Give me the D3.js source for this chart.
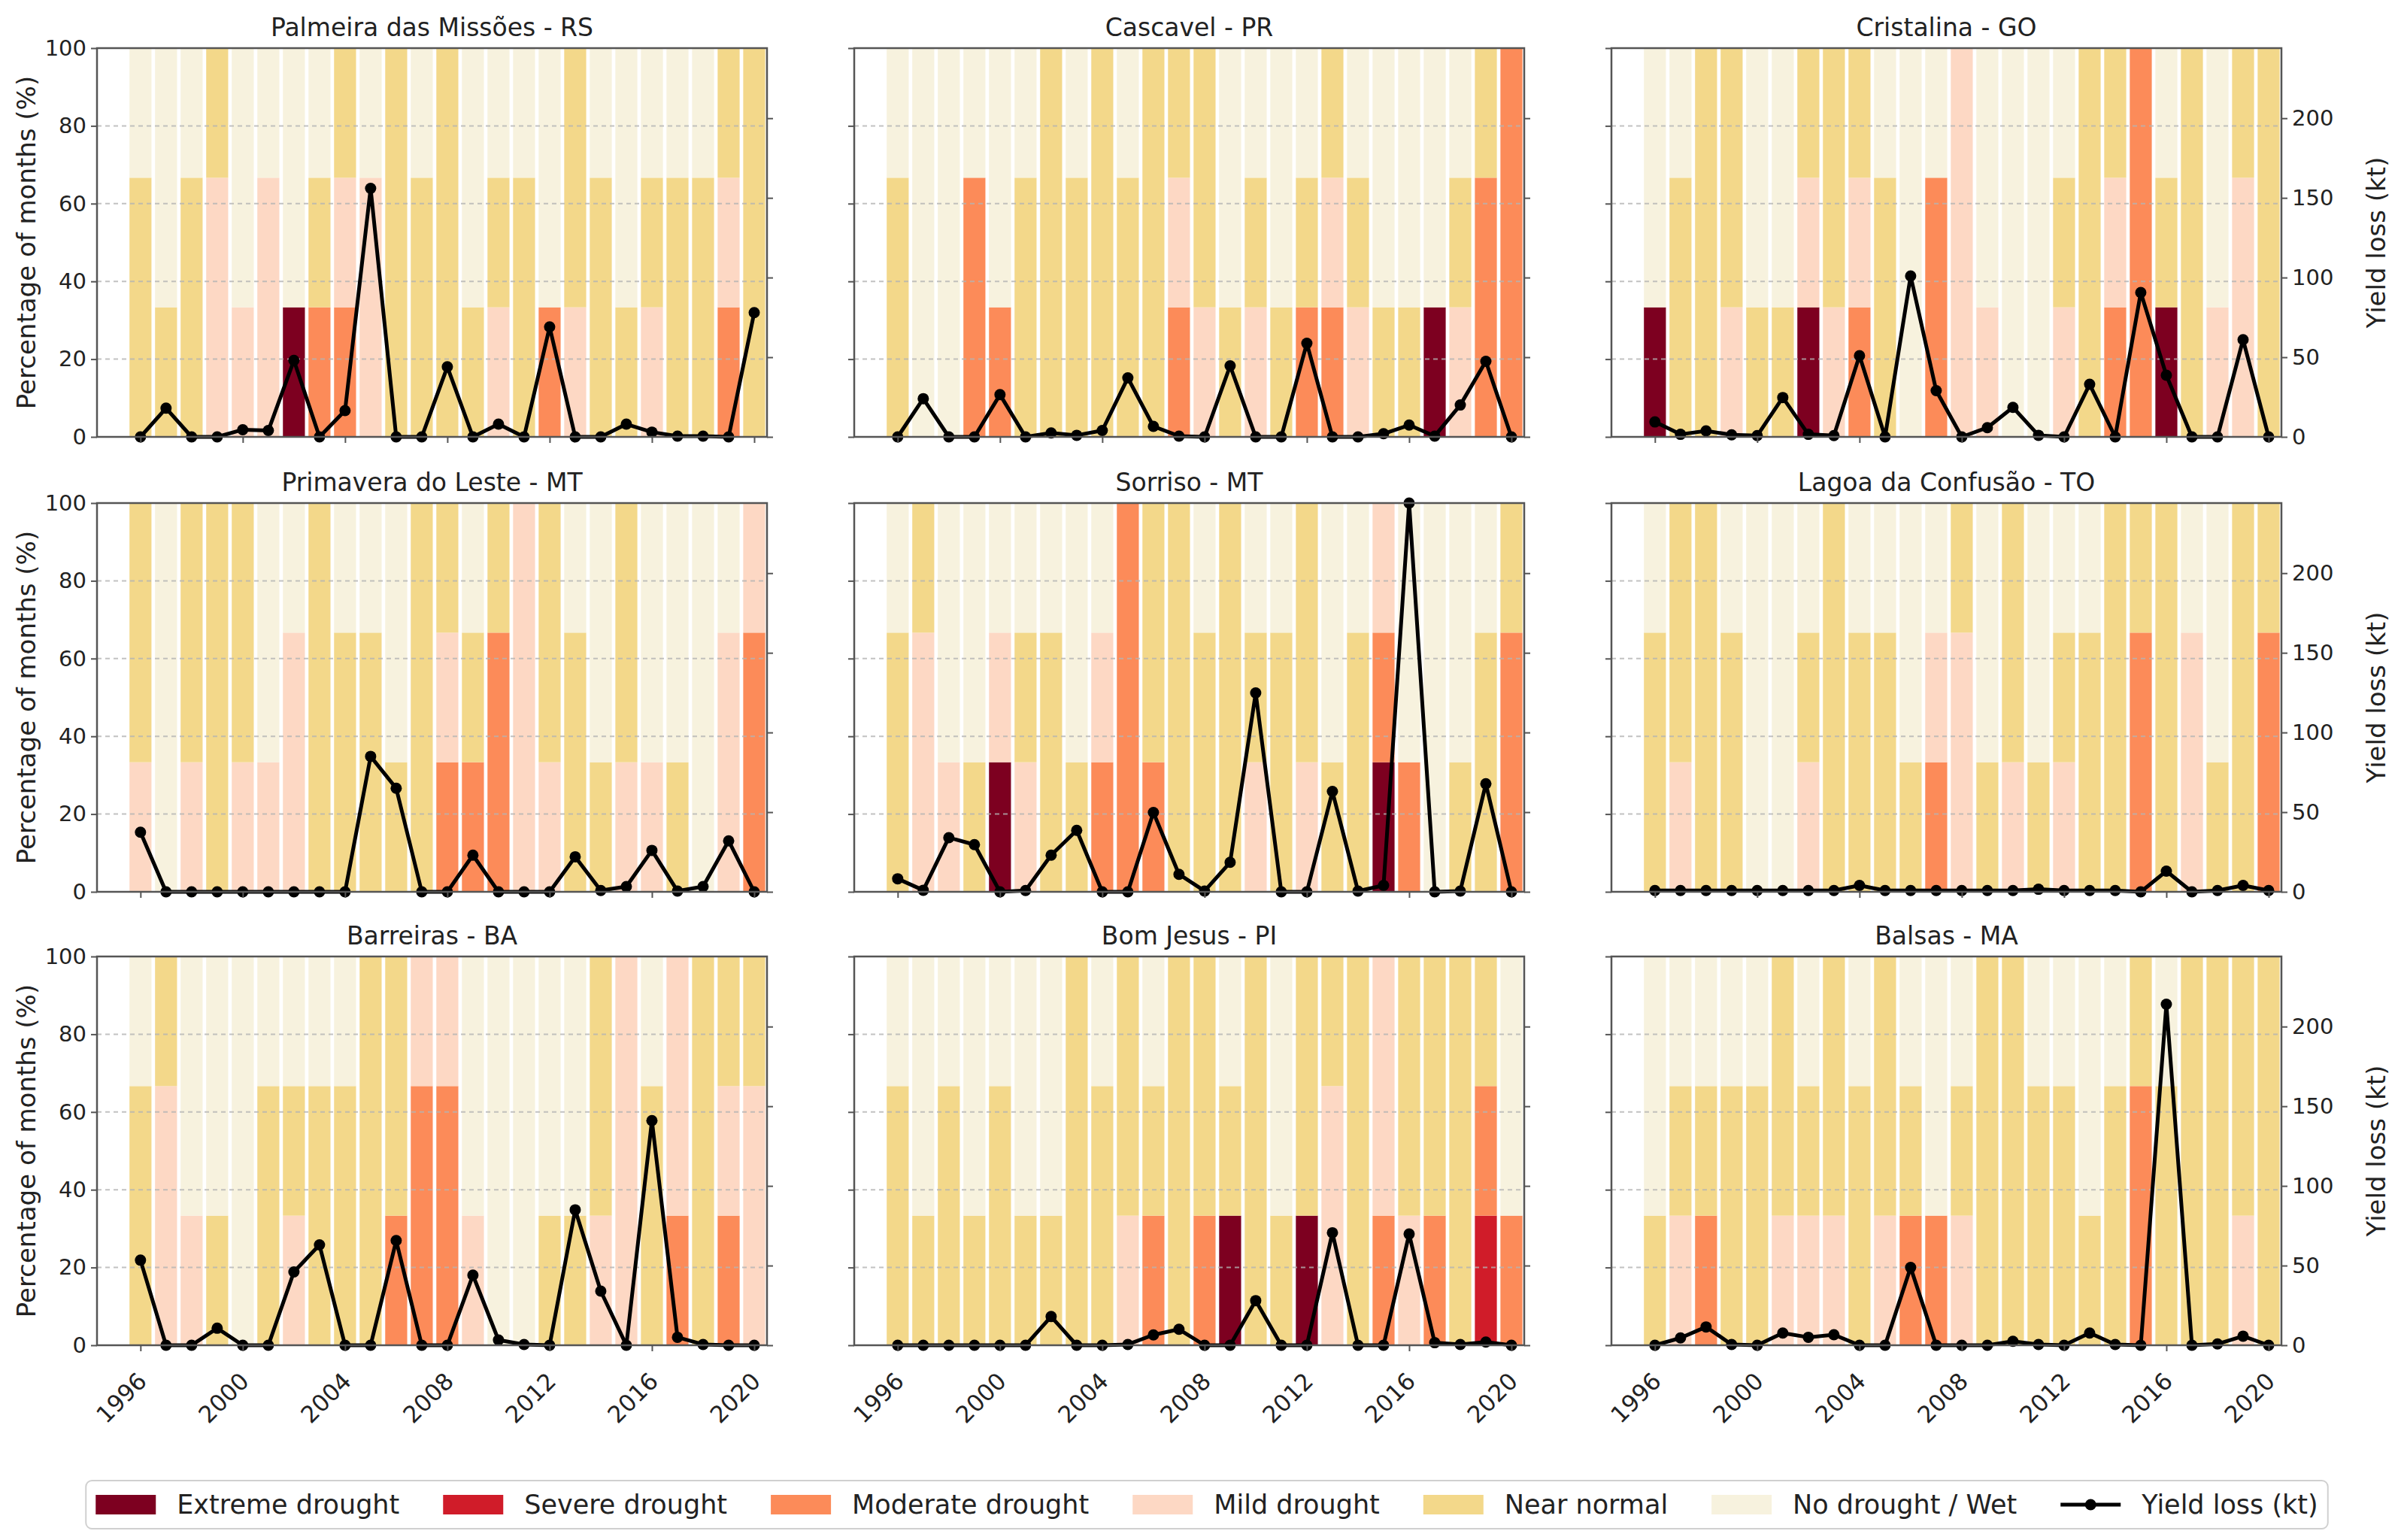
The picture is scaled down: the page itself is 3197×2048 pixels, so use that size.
<!DOCTYPE html>
<html>
<head>
<meta charset="utf-8">
<script src="https://cdn.jsdelivr.net/npm/d3@7/dist/d3.min.js"></script>
<style>
  body { margin: 0; background: #fff; }
  svg { font-family: "DejaVu Sans", sans-serif; }
</style>
</head>
<body>
<script>
// seasons 1996-2020, three months each; class codes from bottom to top:
// E extreme, S severe, M moderate, m mild, N near normal, W no drought / wet
const years = [1996, 1997, 1998, 1999, 2000, 2001, 2002, 2003, 2004, 2005, 2006, 2007, 2008,
               2009, 2010, 2011, 2012, 2013, 2014, 2015, 2016, 2017, 2018, 2019, 2020];
const yearTicks = [1996, 2000, 2004, 2008, 2012, 2016, 2020];
const pctTicks = [0, 20, 40, 60, 80, 100];
const lossTicks = [0, 50, 100, 150, 200];

const classKeys = ["E", "S", "M", "m", "N", "W"];
const classNames = ["Extreme drought", "Severe drought", "Moderate drought",
                    "Mild drought", "Near normal", "No drought / Wet"];
const classColors = ["#7d0020", "#d01c29", "#fc8b59", "#fdd8c4", "#f3d88a", "#f7f2de"];

const sites = ["Palmeira das Missões - RS", "Cascavel - PR", "Cristalina - GO",
               "Primavera do Leste - MT", "Sorriso - MT", "Lagoa da Confusão - TO",
               "Barreiras - BA", "Bom Jesus - PI", "Balsas - MA"];

const palmeiraMonths = ["NNW","NWW","NNW","mmN","mWW","mmW","EWW","MNW","MmN","mmW","NNN","NNW","NNN",
                        "NWW","mNW","NNW","MWW","mNN","NNW","NWW","mNW","NNW","NNW","MmN","NNN"];
const cascavelMonths = ["NNW","WWW","WWW","MMW","MWW","NNW","NNN","NNW","NNN","NNW","NNN","MmN","mNN",
                        "NWW","mNW","NWW","MNW","MmN","mNW","NWW","NWW","EWW","mNW","MMN","MMM"];
const cristalinaMonths = ["EWW","NNW","NNN","mNN","NWW","NWW","EmN","mNN","MmN","NNW","WWW","MMW","mmm",
                          "mWW","WWW","WWW","mNW","NNN","MmN","MMM","ENW","NNN","mWW","mmN","NNN"];
const primaveraMonths = ["mNN","WWW","mNN","NNN","mNN","mWW","mmW","NNN","NNW","NNW","NWW","NNN","MmN",
                         "MNW","MMN","mmm","mNN","NNW","NWW","mNN","mWW","NWW","WWW","mmW","MMm"];
const sorrisoMonths = ["NNW","mmN","mWW","NWW","EmW","mNW","NNW","NWW","MmW","MMM","MNN","NNN","NNW",
                       "NNN","mNW","NNW","mNN","NWW","NNW","EMm","MWW","WWW","NWW","NNW","MMN"];
const lagoaMonths = ["NNW","mNN","NNN","NNW","WWW","WWW","mNW","NNN","NNW","NNW","NWW","MmW","mmN",
                     "NWW","mNN","NWW","mNW","NNW","NNN","MMN","NNN","mmW","NWW","NNN","MMN"];
const barreirasMonths = ["NNW","mmN","mWW","NWW","WWW","NNW","mNW","NNW","NNW","NNN","MNN","MMm","MMm",
                         "mWW","WWW","WWW","NWW","NWW","mNN","mmm","NNW","Mmm","NNN","MmN","mmN"];
const bomJesusMonths = ["NNW","NWW","NNW","NWW","NNW","NWW","NWW","NNN","NNW","mNN","MNW","NNN","MNN",
                        "ENW","NNN","NWW","ENN","mmN","NNN","Mmm","mNN","MNN","NNN","SMN","MWW"];
const balsasMonths = ["NWW","mNW","MNW","NNW","NNW","mNN","mNW","mNN","NNW","mNN","MNW","MWW","mNW",
                      "NNN","NNN","NNW","NNW","NWW","NNW","MMN","NNW","NNN","NNN","mNN","NNN"];

// yield loss (kt)
const palmeiraLoss = [0, 18, 0, 0, 4.5, 4, 48, 0, 16.5, 156, 0, 0, 44, 0, 8, 0, 69, 0, 0, 8, 3, 0.5, 0.5, 0, 78];
const cascavelLoss = [0, 24, 0, 0, 26.5, 0, 2.5, 1, 4, 37, 6.6, 0.5, 0, 44.6, 0, 0, 58.7, 0, 0, 2, 7.4, 0.5, 20, 47.4, 0];
const cristalinaLoss = [9.4, 1.6, 3.8, 1.3, 0.8, 24.7, 1.6, 0.8, 51, 0, 101, 29, 0, 5.8, 18.5, 1, 0, 33, 0, 90.6, 38.7, 0, 0, 61, 0];
const primaveraLoss = [37.4, 0, 0, 0, 0, 0, 0, 0, 0, 85, 65, 0, 0, 23, 0, 0, 0, 22, 0.8, 3.3, 26, 0.5, 3.3, 32, 0];
const sorrisoLoss = [8.2, 1, 34, 29.6, 0, 0.8, 23, 38.6, 0, 0, 49.8, 11, 0.5, 18.5, 124.8, 0, 0, 63, 0.5, 4, 244, 0, 0.5, 67.8, 0];
const lagoaLoss = [0.8, 0.8, 0.8, 0.8, 0.8, 0.8, 0.8, 0.8, 4, 0.8, 0.8, 0.8, 0.8, 0.8, 0.8, 1.6, 0.8, 0.8, 0.8, 0, 13, 0, 0.8, 4, 0.8];
const barreirasLoss = [53.4, 0, 0, 10.7, 0, 0, 46, 63, 0, 0, 65.7, 0, 0, 44, 3.3, 0.5, 0, 85, 34, 0, 141, 5, 0.5, 0, 0];
const bomJesusLoss = [0, 0, 0, 0, 0, 0, 18, 0, 0, 0.5, 6.5, 10, 0, 0, 28, 0, 0, 70.6, 0, 0, 69.8, 1.6, 0.5, 2, 0];
const balsasLoss = [0, 4.6, 11.5, 0.5, 0, 7.7, 5, 6.6, 0, 0, 48.8, 0, 0, 0, 2.5, 0.5, 0, 7.7, 0.5, 0, 214, 0, 0.8, 5.7, 0];

const monthsBySite = [palmeiraMonths, cascavelMonths, cristalinaMonths, primaveraMonths, sorrisoMonths,
                      lagoaMonths, barreirasMonths, bomJesusMonths, balsasMonths];
const lossBySite = [palmeiraLoss, cascavelLoss, cristalinaLoss, primaveraLoss, sorrisoLoss,
                    lagoaLoss, barreirasLoss, bomJesusLoss, balsasLoss];

const W = 3197, H = 2048;
const pw = 891, ph = 517;
const colLeft = [129, 1136, 2143];
const rowTop = [64, 669, 1272];
const barW = 0.86;
const ink = "#222";
const spineColor = "#555";

const svg = d3.select("body").append("svg")
  .attr("width", W).attr("height", H);

const x = d3.scaleLinear().domain([1994.3, 2020.5]).range([0, pw]);
const y = d3.scaleLinear().domain([0, 100]).range([ph, 0]);
const yLoss = d3.scaleLinear().domain([0, 244]).range([ph, 0]);

sites.forEach((site, i) => {
  const row = Math.floor(i / 3), col = i % 3;
  const g = svg.append("g").attr("transform", `translate(${colLeft[col]},${rowTop[row]})`);

  const table = years.map((yr, k) => {
    const o = { year: yr, loss: lossBySite[i][k] };
    const s = monthsBySite[i][k];
    classKeys.forEach(c => { o[c] = s.split("").filter(ch => ch === c).length / s.length * 100; });
    return o;
  });
  const series = d3.stack().keys(classKeys)(table);

  g.selectAll("g.layer")
    .data(series)
    .join("g")
    .attr("class", "layer")
    .attr("fill", (d, j) => classColors[j])
    .selectAll("rect")
    .data(d => d)
    .join("rect")
    .attr("x", d => x(d.data.year - barW / 2))
    .attr("width", x(barW) - x(0))
    .attr("y", d => y(d[1]))
    .attr("height", d => y(d[0]) - y(d[1]));

  // dashed grid above bars
  g.selectAll("line.grid")
    .data(pctTicks.slice(1, -1))
    .join("line")
    .attr("class", "grid")
    .attr("x1", 0).attr("x2", pw)
    .attr("y1", d => y(d)).attr("y2", d => y(d))
    .attr("stroke", "#b4b4b4")
    .attr("stroke-width", 2)
    .attr("stroke-dasharray", "6,5")
    .attr("opacity", 0.8);

  const line = d3.line().x(d => x(d.year)).y(d => yLoss(d.loss));
  g.append("path")
    .datum(table)
    .attr("d", line)
    .attr("fill", "none")
    .attr("stroke", "#000")
    .attr("stroke-width", 5)
    .attr("stroke-linejoin", "round");
  g.selectAll("circle")
    .data(table)
    .join("circle")
    .attr("cx", d => x(d.year))
    .attr("cy", d => yLoss(d.loss))
    .attr("r", 7.5)
    .attr("fill", "#000");

  g.append("rect")
    .attr("width", pw).attr("height", ph)
    .attr("fill", "none")
    .attr("stroke", spineColor)
    .attr("stroke-width", 2.5);

  const xAxis = g.append("g")
    .attr("transform", `translate(0,${ph})`)
    .call(d3.axisBottom(x).tickValues(yearTicks).tickSize(8)
      .tickFormat(row === 2 ? d3.format("d") : () => ""));
  const yAxis = g.append("g")
    .call(d3.axisLeft(y).tickValues(pctTicks).tickSize(8).tickPadding(6)
      .tickFormat(col === 0 ? d3.format("d") : () => ""));
  const rAxis = g.append("g")
    .attr("transform", `translate(${pw},0)`)
    .call(d3.axisRight(yLoss).tickValues(lossTicks).tickSize(8).tickPadding(6)
      .tickFormat(col === 2 ? d3.format("d") : () => ""));

  [xAxis, yAxis, rAxis].forEach(a => {
    a.select(".domain").remove();
    a.selectAll(".tick line").attr("stroke", spineColor).attr("stroke-width", 2);
    a.selectAll(".tick text").attr("fill", ink).style("font-size", "29px")
      .style("font-family", "DejaVu Sans");
  });
  xAxis.selectAll(".tick text")
    .style("font-size", "31px")
    .attr("x", 0).attr("y", 0).attr("dy", "0.35em")
    .attr("text-anchor", "end")
    .attr("transform", "translate(2,42) rotate(-45)");

  g.append("text")
    .attr("x", pw / 2).attr("y", -16)
    .attr("text-anchor", "middle")
    .attr("fill", ink)
    .style("font-size", "33px")
    .text(site);

  if (col === 0) {
    g.append("text")
      .attr("transform", `translate(${-94},${ph / 2}) rotate(-90)`)
      .attr("text-anchor", "middle")
      .attr("dy", "0.35em")
      .attr("fill", ink)
      .style("font-size", "34px")
      .text("Percentage of months (%)");
  }
  if (col === 2) {
    g.append("text")
      .attr("transform", `translate(${pw + 126},${ph / 2}) rotate(-90)`)
      .attr("text-anchor", "middle")
      .attr("dy", "0.35em")
      .attr("fill", ink)
      .style("font-size", "34px")
      .text("Yield loss (kt)");
  }
});

// legend
const legendNames = classNames.concat(["Yield loss (kt)"]);
const lg = svg.append("g");
const box = lg.append("rect");
const items = lg.selectAll("g.item").data(legendNames).join("g").attr("class", "item");
items.append("text")
  .attr("fill", ink)
  .style("font-size", "35px")
  .attr("dy", "0.35em")
  .text(d => d);
let cx = 0;
const handleW = 80, textPad = 28, colGap = 58;
items.each(function (d, j) {
  const it = d3.select(this);
  it.attr("transform", `translate(${cx},0)`);
  if (j < classNames.length) {
    it.append("rect")
      .attr("x", 0).attr("y", -13)
      .attr("width", handleW).attr("height", 26)
      .attr("fill", classColors[j]);
  } else {
    it.append("line")
      .attr("x1", 0).attr("x2", handleW)
      .attr("stroke", "#000").attr("stroke-width", 5);
    it.append("circle").attr("cx", handleW / 2).attr("r", 7.5).attr("fill", "#000");
  }
  const tw = it.select("text").attr("x", handleW + textPad).node().getComputedTextLength();
  cx += handleW + textPad + tw + colGap;
});
const totalW = cx - colGap;
const boxPad = 13;
const legendCx = 1605, legendCy = 2001;
lg.attr("transform", `translate(${legendCx - totalW / 2},${legendCy})`);
box.attr("x", -boxPad).attr("y", -32)
  .attr("width", totalW + 2 * boxPad).attr("height", 64)
  .attr("rx", 8)
  .attr("fill", "#fff")
  .attr("stroke", "#d0d0d0")
  .attr("stroke-width", 2);
</script>
</body>
</html>
